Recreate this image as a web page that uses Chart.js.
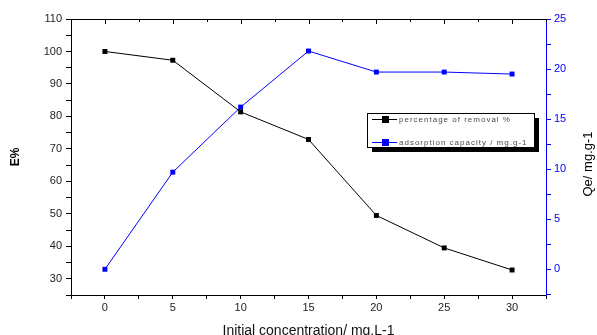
<!DOCTYPE html>
<html>
<head>
<meta charset="utf-8">
<script src="https://cdn.jsdelivr.net/npm/chart.js@4"></script>
<style>
    html, body { margin: 0; padding: 0; background: #fff; }
    #wrap { width: 597px; height: 335px; }
</style>
</head>
<body>
<div id="wrap"><canvas id="chart" width="597" height="335"></canvas></div>
<script>
// Data
const concentrations = [0, 5, 10, 15, 20, 25, 30];
const removalPercent = [100, 97.3, 81.4, 72.9, 49.5, 39.5, 32.7];
const adsorptionCapacity = [0, 9.7, 16.2, 21.8, 19.7, 19.7, 19.5];

const seriesLabels = ['percentage of removal %', 'adsorption capacity / mg.g-1'];
const xTitle = 'Initial concentration/ mg.L-1';
const yLeftTitle = 'E%';
const yRightTitle = 'Qe/ mg.g-1';

const BLUE = '#0000ff';
const FONT = '"Liberation Sans", Arial, sans-serif';

function toPoints(ys) {
    return concentrations.map((x, i) => ({ x: x, y: ys[i] }));
}

// top frame line with inward ticks, plus the right title reading upwards
const framePlugin = {
    id: 'frame',
    afterDraw(chart) {
        const ctx = chart.ctx;
        const area = chart.chartArea;
        const xs = chart.scales.x;
        ctx.save();
        ctx.strokeStyle = '#000';
        ctx.lineWidth = 1;
        ctx.beginPath();
        ctx.moveTo(area.left, area.top + 0.5);
        ctx.lineTo(area.right, area.top + 0.5);
        xs.ticks.forEach(t => {
            const px = Math.round(xs.getPixelForValue(t.value)) + 0.5;
            const len = t.value % 5 === 0 ? 5 : 3;
            ctx.moveTo(px, area.top);
            ctx.lineTo(px, area.top + len);
        });
        ctx.stroke();

        ctx.translate(588, 164);
        ctx.rotate(-Math.PI / 2);
        ctx.fillStyle = '#000';
        ctx.font = '13px ' + FONT;
        ctx.textAlign = 'center';
        ctx.textBaseline = 'middle';
        ctx.fillText(yRightTitle, 0, 0);
        ctx.restore();
    }
};

// boxed legend with drop shadow
const boxLegendPlugin = {
    id: 'boxLegend',
    afterDraw(chart) {
        const ctx = chart.ctx;
        const bx = 367, by = 113, bw = 167, bh = 34;
        ctx.save();
        ctx.fillStyle = '#000';
        ctx.fillRect(bx + 5, by + 5, bw, bh);
        ctx.fillStyle = '#fff';
        ctx.fillRect(bx, by, bw, bh);
        ctx.strokeStyle = '#000';
        ctx.lineWidth = 1;
        ctx.strokeRect(bx + 0.5, by + 0.5, bw, bh);

        const rows = [119, 142];
        chart.data.datasets.forEach((ds, i) => {
            const y = rows[i] + 0.5;
            ctx.strokeStyle = ds.borderColor;
            ctx.beginPath();
            ctx.moveTo(372, y);
            ctx.lineTo(397, y);
            ctx.stroke();
            ctx.fillStyle = ds.backgroundColor;
            ctx.fillRect(382, rows[i] - 3, 7, 7);
            ctx.fillStyle = '#4a4a4a';
            ctx.font = '8px ' + FONT;
            ctx.letterSpacing = '1px';
            ctx.textBaseline = 'middle';
            ctx.fillText(ds.label, 399, rows[i] + 1);
        });
        ctx.restore();
    }
};

document.addEventListener('DOMContentLoaded', function () {
    const ctx = document.getElementById('chart').getContext('2d');
    new Chart(ctx, {
        type: 'scatter',
        data: {
            datasets: [{
                label: seriesLabels[0],
                data: toPoints(removalPercent),
                yAxisID: 'y',
                showLine: true,
                borderColor: '#000',
                backgroundColor: '#000',
                borderWidth: 1,
                pointStyle: 'rect',
                pointRadius: 3.5,
                pointBorderWidth: 0
            }, {
                label: seriesLabels[1],
                data: toPoints(adsorptionCapacity),
                yAxisID: 'y1',
                showLine: true,
                borderColor: BLUE,
                backgroundColor: BLUE,
                borderWidth: 1,
                pointStyle: 'rect',
                pointRadius: 3.5,
                pointBorderWidth: 0
            }]
        },
        options: {
            responsive: false,
            animation: false,
            layout: { padding: { top: 19, left: 0, right: 0, bottom: 0 } },
            plugins: {
                legend: { display: false },
                tooltip: { enabled: false }
            },
            scales: {
                x: {
                    type: 'linear',
                    min: -2.5,
                    max: 32.5,
                    afterFit: scale => { scale.height = 40; },
                    border: { color: '#000', width: 1 },
                    grid: { drawOnChartArea: false, drawTicks: true, tickLength: 4, color: '#000' },
                    ticks: {
                        stepSize: 2.5,
                        autoSkip: false,
                        maxRotation: 0,
                        includeBounds: false,
                        padding: 2,
                        color: '#222',
                        font: { family: FONT, size: 11 },
                        callback: v => (v % 5 === 0 && v >= 0 && v <= 30) ? String(v) : ''
                    },
                    title: {
                        display: true,
                        text: xTitle,
                        color: '#111',
                        padding: { top: 0, bottom: -5 },
                        font: { family: FONT, size: 14 }
                    }
                },
                y: {
                    position: 'left',
                    min: 25,
                    max: 110,
                    afterFit: scale => { scale.width = 71; },
                    border: { color: '#000', width: 1 },
                    grid: { drawOnChartArea: false, drawTicks: true, tickLength: 5, color: '#000' },
                    ticks: {
                        stepSize: 5,
                        autoSkip: false,
                        padding: 4,
                        color: '#222',
                        font: { family: FONT, size: 11 },
                        callback: v => (v % 10 === 0 && v >= 30) ? String(v) : ''
                    },
                    title: {
                        display: true,
                        text: yLeftTitle,
                        color: '#000',
                        padding: { top: 8, bottom: 0 },
                        font: { family: FONT, size: 12, weight: 'bold' }
                    }
                },
                y1: {
                    position: 'right',
                    min: -2.57,
                    max: 25,
                    afterFit: scale => { scale.width = 51; },
                    border: { color: BLUE, width: 1 },
                    grid: { drawOnChartArea: false, drawTicks: true, tickLength: 5, color: BLUE },
                    ticks: {
                        stepSize: 2.5,
                        autoSkip: false,
                        includeBounds: false,
                        padding: 3,
                        color: BLUE,
                        font: { family: FONT, size: 11 },
                        callback: v => (v % 5 === 0 && v >= 0) ? String(v) : ''
                    },
                    title: { display: false }
                }
            }
        },
        plugins: [framePlugin, boxLegendPlugin]
    });
});
</script>
</body>
</html>
